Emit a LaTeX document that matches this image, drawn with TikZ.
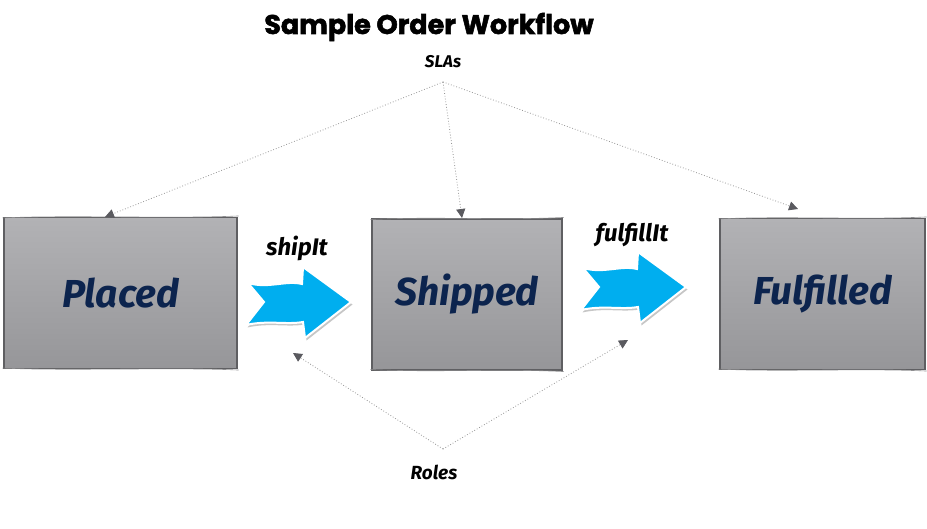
\documentclass[tikz,border=0pt]{standalone}
\usepackage{fontspec}
\usetikzlibrary{arrows.meta,shadows,calc}
\newfontfamily\titlefont{Poppins}[FakeBold=2]
\newfontfamily\hand{Fira Sans}
\definecolor{boxtxt}{RGB}{12,36,78}
\definecolor{arrblue}{RGB}{0,174,239}
\definecolor{linegray}{RGB}{150,150,150}
\definecolor{headgray}{RGB}{90,90,95}
\definecolor{edgegray}{RGB}{95,95,98}
\tikzset{
  statebox/.style={rectangle, minimum width=#1, minimum height=151pt, inner sep=0pt,
    top color={rgb,255:red,178;green,178;blue,181}, bottom color={rgb,255:red,150;green,150;blue,153},
    draw=edgegray, line width=1.1pt,
    font=\hand\itshape\bfseries\fontsize{39}{44}\selectfont, text=boxtxt},
  lbl/.style={font=\hand\itshape\bfseries\fontsize{17}{20}\selectfont, text=black, inner sep=1pt},
  biglbl/.style={lbl, font=\hand\itshape\bfseries\fontsize{24}{28}\selectfont},
  dotlink/.style={draw=linegray, dotted, line width=0.8pt,
    -{Triangle[length=9pt,width=9pt,fill=headgray,color=headgray]}},
  sketch/.style={draw=edgegray!70, line width=0.6pt},
  bluearrow/.pic={
    \fill[arrblue, draw=white, line width=2pt, drop shadow={shadow xshift=1.5pt, shadow yshift=-2.5pt, opacity=0.45}]
      (-50,-19) .. controls (-30,-13) and (-12,-22) .. (4,-18)
      -- (5,-35) -- (53,0) -- (7,36) -- (5,20)
      .. controls (-12,23) and (-30,18) .. (-52,23)
      -- (-34,0) -- cycle;
  }
}
\begin{document}
\begin{tikzpicture}[x=1pt,y=-1pt]
\useasboundingbox (0,0) rectangle (927,529);
% title
\node (title) at (429,27) {\titlefont\bfseries\fontsize{27}{31}\selectfont Sample Order Workflow};
% boxes
\node[statebox=233pt] (placed) at (120.5,293) {Placed};
\node[statebox=190pt] (shipped) at (467,294.5) {Shipped};
\node[statebox=205pt] (fulfilled) at (822.5,294) {Fulfilled};
% sketchy second strokes
\draw[sketch] ([shift={(-1,1)}]placed.north west) .. controls ([shift={(60,-2)}]placed.north west) and ([shift={(-60,2)}]placed.north east) .. ([shift={(1,-1)}]placed.north east);
\draw[sketch] ([shift={(-1,-1)}]placed.south west) .. controls ([shift={(60,2)}]placed.south west) and ([shift={(-60,-2)}]placed.south east) .. ([shift={(1,1)}]placed.south east);
\draw[sketch] ([shift={(-1,1)}]shipped.north west) .. controls ([shift={(60,-2)}]shipped.north west) and ([shift={(-60,2)}]shipped.north east) .. ([shift={(1,-1)}]shipped.north east);
\draw[sketch] ([shift={(-1,-1)}]shipped.south west) .. controls ([shift={(60,2)}]shipped.south west) and ([shift={(-60,-2)}]shipped.south east) .. ([shift={(1,1)}]shipped.south east);
\draw[sketch] ([shift={(-1,1)}]fulfilled.north west) .. controls ([shift={(60,-2)}]fulfilled.north west) and ([shift={(-60,2)}]fulfilled.north east) .. ([shift={(1,-1)}]fulfilled.north east);
\draw[sketch] ([shift={(-1,-1)}]fulfilled.south west) .. controls ([shift={(60,2)}]fulfilled.south west) and ([shift={(-60,-2)}]fulfilled.south east) .. ([shift={(1,1)}]fulfilled.south east);
% labels
\node[lbl] (slas) at (443,62) {SLAs};
\node[lbl, font=\hand\itshape\bfseries\fontsize{19}{22}\selectfont] (roles) at (434,472) {Roles};
\coordinate (slap) at (443,82);
\coordinate (rolep) at (443,449);
\coordinate (slaA) at (105,217);
\coordinate (slaB) at (462,218);
\coordinate (slaC) at (798,209);
\coordinate (roleA) at (293,353);
\coordinate (roleB) at (628,340);
\draw[dotlink] (slap) -- (slaA);
\draw[dotlink] (slap) -- (slaB);
\draw[dotlink] (slap) -- (slaC);
\draw[dotlink] (rolep) -- (roleA);
\draw[dotlink] (rolep) -- (roleB);
% blue arrows
\pic at (298,302) {bluearrow};
\pic at (633,287) {bluearrow};
\node[biglbl] (ship) at (297,248) {shipIt};
\node[biglbl] (fulfill) at (632,235) {fulfillIt};
\end{tikzpicture}
\end{document}
